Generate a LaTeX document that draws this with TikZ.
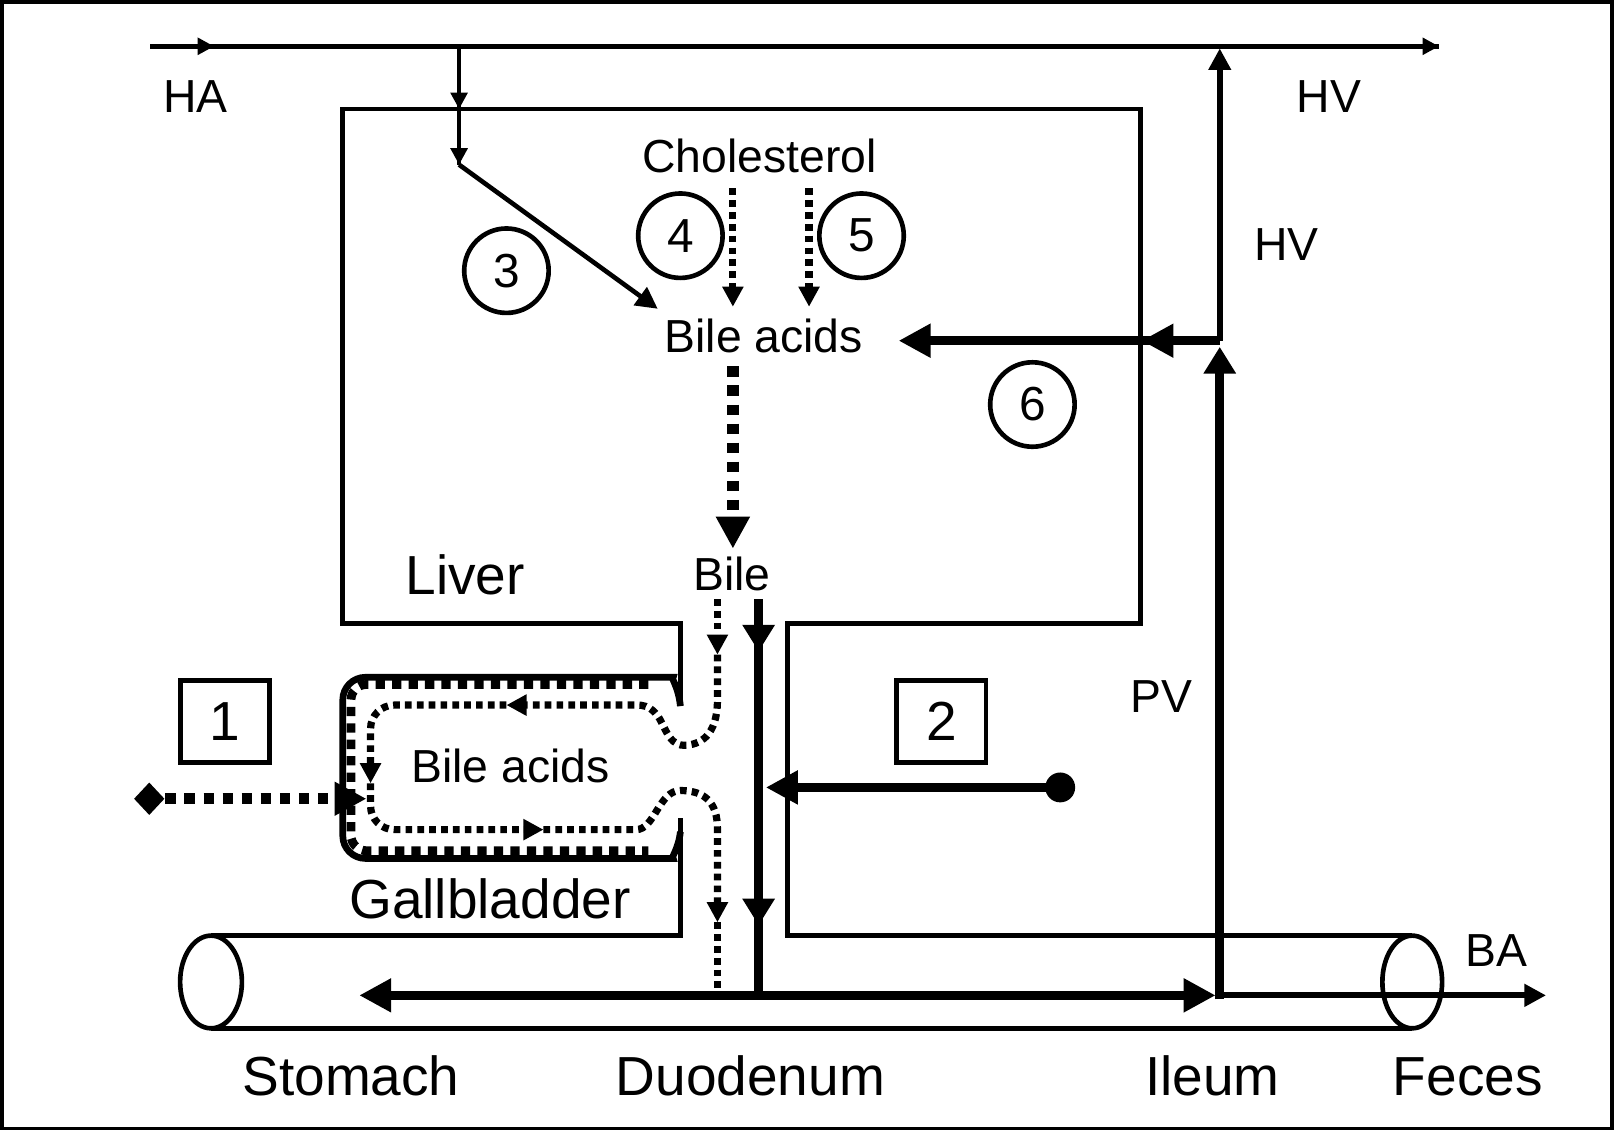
\documentclass[tikz,border=0pt]{standalone}
\usepackage{fontspec}
\setmainfont{Liberation Sans}
\usetikzlibrary{arrows.meta,shapes.geometric}
\begin{document}
\begin{tikzpicture}[x=0.01cm,y=-0.01cm,
  frame/.style={line width=0.035cm},
  wall/.style={line width=0.045cm},
  vein/.style={line width=0.06cm},
  flow/.style={line width=0.085cm},
  gbline/.style={line width=0.065cm},
  dsmall/.style={line width=0.07cm, dash pattern=on 0.065cm off 0.05cm},
  dbig/.style={line width=0.11cm, dash pattern=on 0.10cm off 0.085cm},
  band/.style={line width=0.085cm, dash pattern=on 0.09cm off 0.07cm},
  tA/.style={-{Triangle[length=0.16cm,width=0.16cm]}},
  tM/.style={-{Triangle[length=0.21cm,width=0.21cm]}},
  tD/.style={-{Triangle[length=0.195cm,width=0.195cm]}},
  tL/.style={-{Triangle[length=0.31cm,width=0.31cm]}},
  tT/.style={-{Triangle[length=0.26cm,width=0.30cm]}},
  lblS/.style={font=\fontsize{12.8}{14}\selectfont, inner sep=0pt, anchor=base},
  lblL/.style={font=\fontsize{15.2}{17}\selectfont, inner sep=0pt, anchor=base},
  num/.style={circle, draw, line width=0.045cm, minimum size=0.82cm, inner sep=0pt, font=\fontsize{13.2}{14}\selectfont},
  numbox/.style={draw, line width=0.045cm, minimum width=0.865cm, minimum height=0.795cm, inner sep=0pt, font=\fontsize{15.2}{17}\selectfont},
]
\useasboundingbox (0,0) rectangle (1568,1098);
\draw[frame] (1.75,1.75) rectangle (1566.25,1096.25);

% labels
\node[lblS] (ha) at (190,109) {HA};
\node[lblS] (hv1) at (1291,109) {HV};
\node[lblS] (hv2) at (1250,253) {HV};
\node[lblS] (pv) at (1128,692) {PV};
\node[lblS] (ba) at (1454,939) {BA};
\node[lblS] (chol) at (738,168) {Cholesterol};
\node[lblS] (bileacids) at (742,342) {Bile acids};
\node[lblS] (bile) at (711,574) {Bile};
\node[lblL] (liver) at (452,578) {Liver};
\node[lblS] (gbacids) at (496,760) {Bile acids};
\node[lblL] (gb) at (476,892) {Gallbladder};
\node[lblL] (stomach) at (341,1064) {Stomach};
\node[lblL] (duod) at (729,1064) {Duodenum};
\node[lblL] (ileum) at (1178,1064) {Ileum};
\node[lblL] (feces) at (1426,1064) {Feces};

% numbers
\node[num] (n3) at (492,263) {3};
\node[num] (n4) at (661,229) {4};
\node[num] (n5) at (837,229) {5};
\node[num] (n6) at (1003,393) {6};
\node[numbox] (b1) at (218.5,701) {1};
\node[numbox] (b2) at (914.5,701) {2};

% liver and duct walls
\draw[wall] (661,686) -- (661,606) -- (333,606) -- (333,106) -- (1108,106) -- (1108,606) -- (765,606) -- (765,909) -- (1372,909);
\draw[wall] (661,795) -- (661,909) -- (205,909);
\draw[wall] (205,999) -- (1372,999);
\node[draw, ellipse, wall, minimum width=0.60cm, minimum height=0.90cm, inner sep=0pt] (stomachEnd) at (205,954) {};
\node[draw, ellipse, wall, minimum width=0.58cm, minimum height=0.90cm, inner sep=0pt] (fecesEnd) at (1372,954) {};

% gallbladder
\draw[band, rounded corners=0.15cm] (630,665) -- (341,665) -- (341,826.5) -- (630,826.5);
\draw[gbline, rounded corners=0.22cm] (661,686) .. controls (659,666) and (651,658) .. (632,658) -- (333,658) -- (333,834) -- (632,834) .. controls (651,834) and (659,826) .. (661,808);

% hepatic artery
\coordinate (haS) at (146,45);
\coordinate (haM) at (208,45);
\coordinate (brT) at (446,45);
\coordinate (brM) at (446,106);
\coordinate (brK) at (446,160);
\coordinate (brE) at (639,300);
\coordinate (hvE) at (1398,45);
\draw[wall] (haS) -- (hvE);
\draw[wall,tA] (haS) -- (haM);
\draw[wall,tA] (haM) -- (hvE);
\draw[wall] (brT) -- (brK);
\draw[wall,tA] (brT) -- (brM);
\draw[wall,tA] (brM) -- (brK);
\draw[wall,tM] (brK) -- (brE);

% portal / hepatic vein
\coordinate (pvJ) at (1185,331);
\coordinate (hvTop) at (1185,47);
\coordinate (pvB) at (1185,971);
\coordinate (pvTip) at (1185,337);
\coordinate (wallR) at (1109,331);
\coordinate (baTip) at (873,331);
\coordinate (baCorner) at (1185,967);
\coordinate (baEnd) at (1502,967);
\draw[vein,tM] (pvJ) -- (hvTop);
\draw[flow,tT] (pvB) -- (pvTip);
\draw[flow] (pvJ) -- (wallR);
\draw[flow,tL] (pvJ) -- (wallR);
\draw[flow,tL] (wallR) -- (baTip);
\draw[vein,tM] (baCorner) -- (baEnd);

% intestine flow
\coordinate (ductB) at (737,967);
\coordinate (leftTip) at (349,967);
\coordinate (rightTip) at (1181,967);
\draw[flow,tL] (ductB) -- (leftTip);
\draw[flow,tL] (ductB) -- (rightTip);

% bile duct solid
\coordinate (ductT) at (737,582);
\coordinate (ductA1) at (737,633);
\coordinate (ductA2) at (737,899);
\draw[flow] (ductT) -- (ductB);
\draw[flow,tT] (ductT) -- (ductA1);
\draw[flow,tT] (ductA1) -- (ductA2);

% input 2
\node[circle, fill, minimum size=0.29cm, inner sep=0pt] (dot) at (1030,765) {};
\coordinate (dotTip) at (744,765);
\draw[flow,tL] (dot.center) -- (dotTip);

% cholesterol -> bile acids
\coordinate (c4a) at (712,183);
\coordinate (c4b) at (712,298);
\coordinate (c5a) at (786,183);
\coordinate (c5b) at (786,298);
\draw[dsmall,tD] (c4a) -- (c4b);
\draw[dsmall,tD] (c5a) -- (c5b);

% bile acids -> bile
\coordinate (baS) at (712,356);
\coordinate (bileTip) at (712,533);
\draw[dbig,tL] (baS) -- (bileTip);

% input 1
\node[diamond, fill, inner sep=0pt, minimum width=0.30cm, minimum height=0.32cm, shape aspect=0.94] (dia) at (145,776) {};
\coordinate (gbTip) at (356,776);
\draw[dbig,tL] (dia.east) -- (gbTip);

% bile into gallbladder loop
\coordinate (bd0) at (697,582);
\coordinate (bd1) at (697,636);
\coordinate (lp1) at (492,685);
\coordinate (lp2) at (360,761);
\coordinate (lp3) at (528,806);
\coordinate (bd2) at (697,896);
\coordinate (bd3) at (697,960);
\draw[dsmall,tD] (bd0) -- (bd1);
\draw[dsmall,tD] (bd1) -- (697,680) .. controls (697,715) and (680,724) .. (664,724) .. controls (648,724) and (645,700) .. (636,692) .. controls (630,686) and (625,685) .. (618,685) -- (lp1);
\draw[dsmall,tD,rounded corners=0.23cm] (lp1) -- (360,685) -- (lp2);
\draw[dsmall,tD,rounded corners=0.23cm] (lp2) -- (360,806) -- (lp3);
\draw[dsmall,tD] (lp3) -- (618,806) .. controls (636,806) and (640,768) .. (661,768) .. controls (685,768) and (697,780) .. (697,805) -- (bd2);
\draw[dsmall] (bd2) -- (bd3);
\end{tikzpicture}
\end{document}
